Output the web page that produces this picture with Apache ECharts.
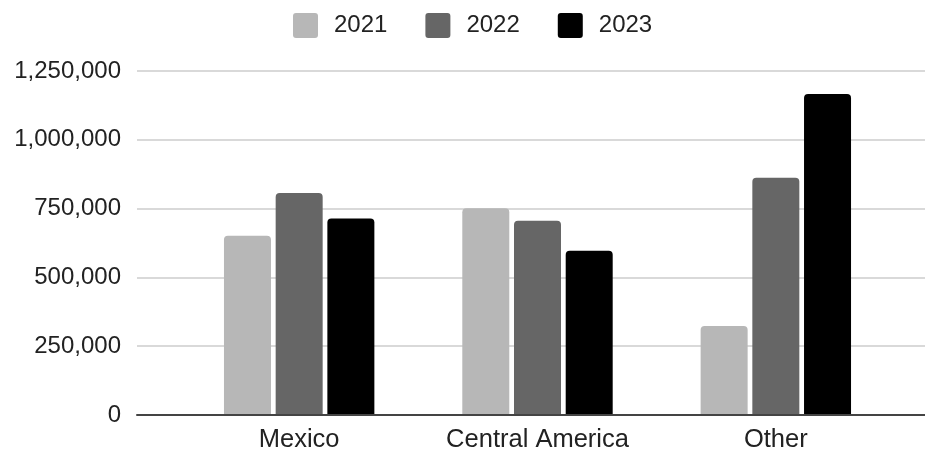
<!DOCTYPE html>
<html>
<head>
<meta charset="utf-8">
<script src="https://cdn.jsdelivr.net/npm/echarts@6/dist/echarts.min.js"></script>
<style>
html,body{margin:0;padding:0;background:#fff;}
#chart{width:925px;height:454px;}
</style>
</head>
<body>
<div id="chart"></div>
<script>
var categories = ['Mexico', 'Central America', 'Other'];
var seriesNames = ['2021', '2022', '2023'];
var values2021 = [651000, 751000, 323000];
var values2022 = [807000, 706000, 862000];
var values2023 = [714000, 597000, 1166000];
var yTicks = [0, 250000, 500000, 750000, 1000000, 1250000];

var colors = ['#b7b7b7', '#666666', '#000000'];
var FONT = 'Arial, "Liberation Sans", sans-serif';

function fmt(v) {
  return String(v).replace(/\B(?=(\d{3})+(?!\d))/g, ',');
}

var chart = echarts.init(document.getElementById('chart'), null, {renderer: 'canvas'});
var allValues = [values2021, values2022, values2023];
var series = seriesNames.map(function (name, i) {
  return {
    name: name,
    type: 'bar',
    xAxisIndex: 1,
    yAxisIndex: 1,
    data: allValues[i],
    barWidth: 47,
    barGap: '10%',
    itemStyle: { color: colors[i], borderRadius: [4, 4, 0, 0] },
    z: 3
  };
});

chart.setOption({
  animation: false,
  backgroundColor: '#ffffff',
  textStyle: { fontFamily: FONT },
  legend: {
    data: seriesNames,
    left: 288,
    top: 8,
    icon: 'path://M3,0 L22,0 Q25,0 25,3 L25,22 Q25,25 22,25 L3,25 Q0,25 0,22 L0,3 Q0,0 3,0 Z',
    itemWidth: 25,
    itemHeight: 25,
    itemGap: 38,
    textStyle: { fontSize: 24, color: '#222', fontFamily: FONT, padding: [0, 0, 0, 11] }
  },
  grid: [
    { left: 137, right: 0, top: 71, bottom: 39, containLabel: false },
    { left: 180, right: 30, top: 71, bottom: 39, containLabel: false }
  ],
  xAxis: [
    {
      gridIndex: 0,
      type: 'category',
      data: [''],
      axisLine: { show: true, lineStyle: { color: '#444', width: 2 } },
      axisTick: { show: false },
      axisLabel: { show: false },
      splitLine: { show: false },
      z: 4
    },
    {
      gridIndex: 1,
      type: 'category',
      data: categories,
      axisLine: { show: false },
      axisTick: { show: false },
      axisLabel: { fontSize: 25.5, color: '#222', margin: 12, fontFamily: FONT }
    }
  ],
  yAxis: [
    {
      gridIndex: 0,
      type: 'value',
      min: yTicks[0],
      max: yTicks[yTicks.length - 1],
      interval: yTicks[1] - yTicks[0],
      axisLine: { show: false },
      axisTick: { show: false },
      axisLabel: { fontSize: 24, color: '#222', margin: 16, fontFamily: FONT, formatter: fmt },
      splitLine: { show: true, lineStyle: { color: '#cccccc', width: 1.5 } }
    },
    {
      gridIndex: 1,
      type: 'value',
      min: yTicks[0],
      max: yTicks[yTicks.length - 1],
      interval: yTicks[1] - yTicks[0],
      show: false,
      splitLine: { show: false }
    }
  ],
  series: series
});
</script>
</body>
</html>
